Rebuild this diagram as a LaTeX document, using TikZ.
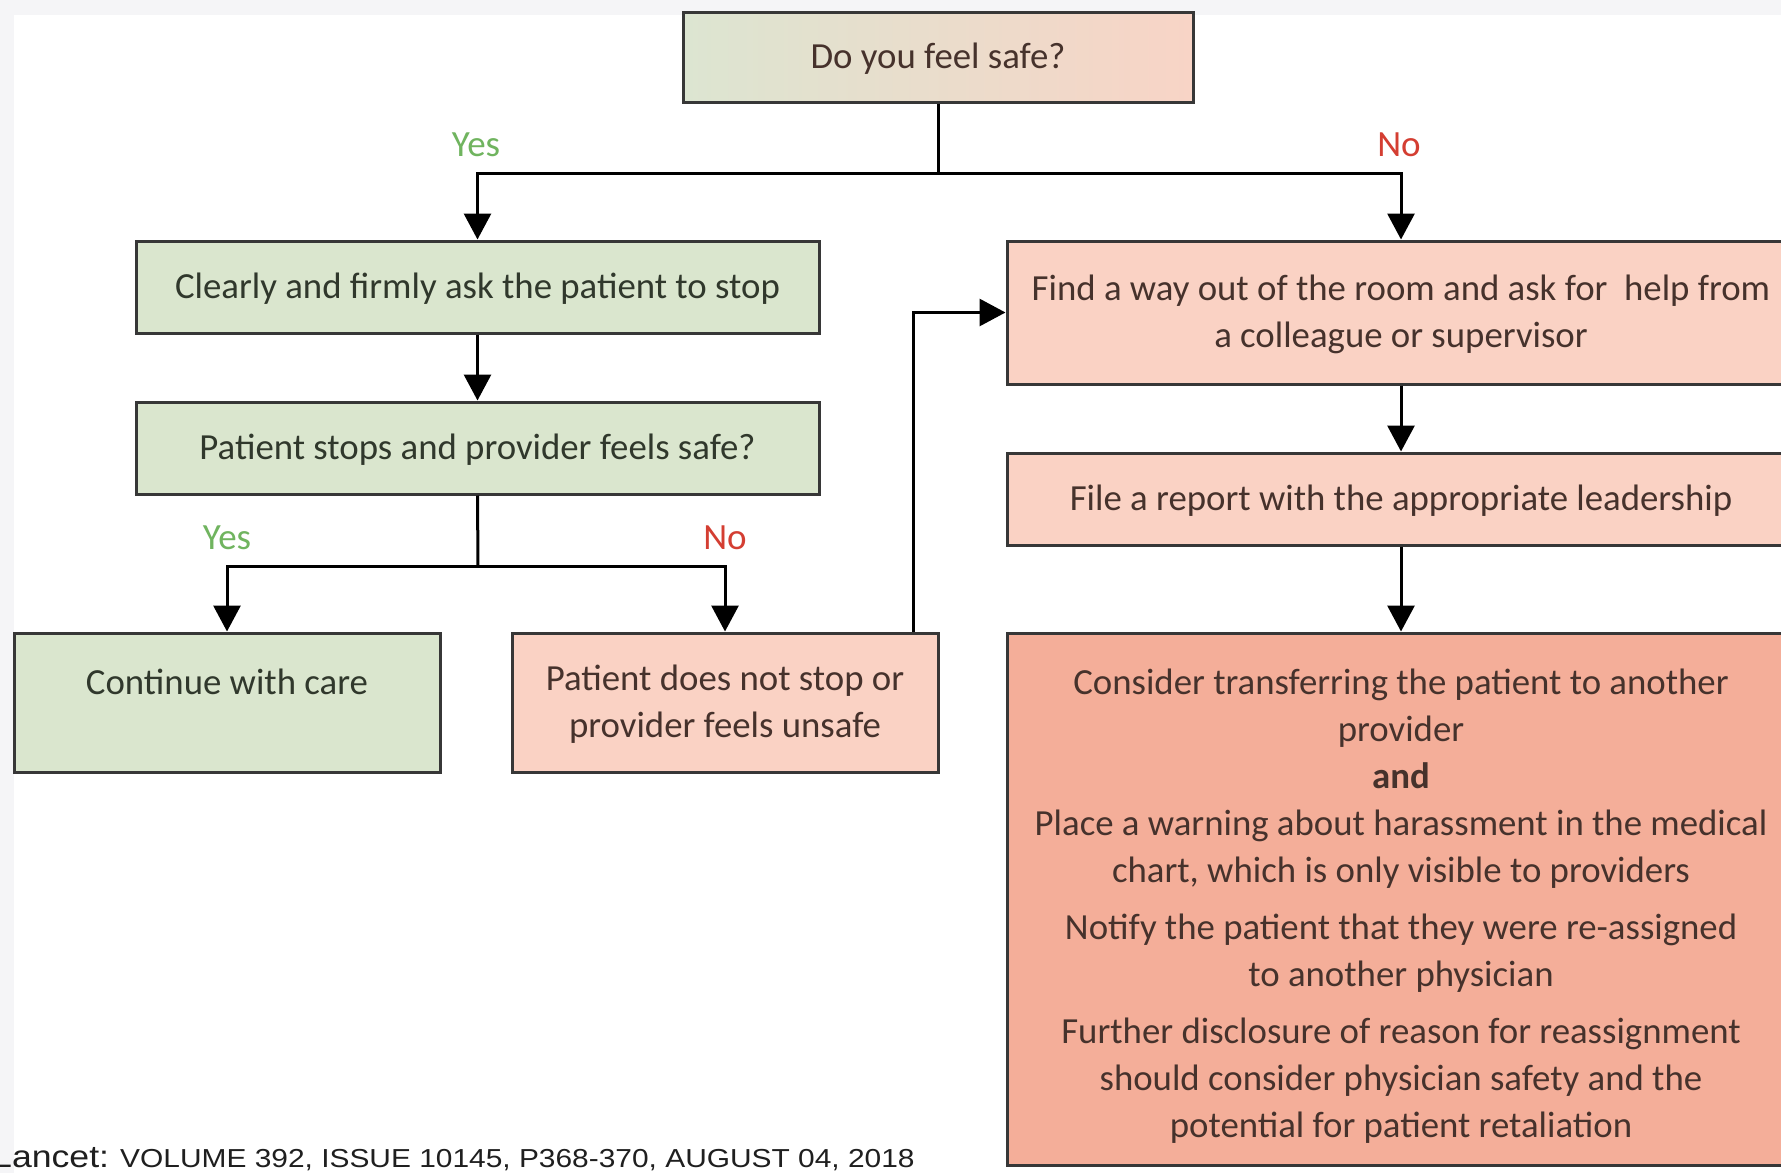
\documentclass[tikz,border=0pt]{standalone}
\usepackage{fontspec}
\setmainfont{Carlito}
\newfontfamily\citefont[FakeStretch=1.15]{Liberation Sans}
\usetikzlibrary{arrows.meta}
\definecolor{bggray}{RGB}{245,245,247}
\definecolor{gfill}{RGB}{218,230,206}
\definecolor{pfill}{RGB}{250,210,196}
\definecolor{cfill}{RGB}{244,174,153}
\definecolor{topleft}{RGB}{220,229,209}
\definecolor{topright}{RGB}{248,212,198}
\definecolor{yesgreen}{RGB}{112,180,95}
\definecolor{nored}{RGB}{212,62,50}
\definecolor{boxline}{RGB}{55,55,55}
\definecolor{gtxt}{RGB}{48,56,44}
\definecolor{ptxt}{RGB}{70,50,44}
\begin{document}
\begin{tikzpicture}[x=1pt,y=-1pt,
  box/.style={draw=boxline, line width=3pt, inner sep=0pt, align=center,
    font=\fontsize{36.8}{47}\selectfont, text depth=3pt},
  greenbox/.style={box, fill=gfill, text=gtxt},
  pinkbox/.style={box, fill=pfill, text=ptxt},
  conn/.style={line width=3pt, draw=black},
  arr/.style={conn, -{Triangle[width=27pt,length=26pt]}},
  yeslbl/.style={text=yesgreen, font=\fontsize{37}{40}\selectfont},
  nolbl/.style={text=nored, font=\fontsize{37}{40}\selectfont}]
\useasboundingbox (0,0) rectangle (1781,1173);
\fill[bggray] (0,0) rectangle (1781,1173);
\fill[white] (14,15) rectangle (1781,1173);

% nodes
\node[box, left color=topleft, right color=topright, text=ptxt,
  minimum width=510pt, minimum height=90pt] (q) at (938,57) {Do you feel safe?};
\node[greenbox, minimum width=683pt, minimum height=92pt] (ask) at (477.5,287)
  {Clearly and firmly ask the patient to stop};
\node[greenbox, minimum width=683pt, minimum height=92pt] (stops) at (477.5,448)
  {Patient stops and provider feels safe?};
\node[greenbox, text depth=0pt, minimum width=426pt, minimum height=139pt] (cont) at (227,702.5)
  {\rule{0pt}{31pt}Continue with care\\ \mbox{}};
\node[pinkbox, minimum width=426pt, minimum height=139pt] (notstop) at (725,702.5)
  {Patient does not stop or\\provider feels unsafe};
\node[pinkbox, minimum width=788pt, minimum height=143pt] (find) at (1401,312.5)
  {Find a way out of the room and ask for\ \ help from\\a colleague or supervisor};
\node[pinkbox, minimum width=788pt, minimum height=92pt] (file) at (1401,499)
  {File a report with the appropriate leadership};
\node[box, fill=cfill, text=ptxt, text depth=0pt, minimum width=788pt, minimum height=532pt] (cons) at (1401,899)
  {\rule{0pt}{34pt}Consider transferring the patient to another\\provider\\\textbf{and}\\
   Place a warning about harassment in the medical\\chart, which is only visible to providers\\[10pt]
   Notify the patient that they were re-assigned\\to another physician\\[10pt]
   Further disclosure of reason for reassignment\\should consider physician safety and the\\potential for patient retaliation};

% labels
\node[yeslbl] (yes1) at (476,145) {Yes};
\node[nolbl] (no1) at (1399,145) {No};
\node[yeslbl] (yes2) at (227,538) {Yes};
\node[nolbl] (no2) at (725,538) {No};

% connectors
\coordinate (b1) at (938,173);
\coordinate (b2) at (478,566);
\draw[conn] (q.south) -- (b1);
\draw[arr] (b1) -| (ask.north);
\draw[arr] (b1) -| (find.north);
\draw[arr] (ask.south) -- (stops.north);
\draw[conn] (stops.south) -- (b2);
\draw[arr] (b2) -| (cont.north);
\draw[arr] (b2) -| (notstop.north);
\draw[arr] ([xshift=-26pt]notstop.north east) |- (find.west);
\draw[arr] (find.south) -- (file.north);
\draw[arr] (file.south) -- (cons.north);

% citation
\node[anchor=base west, inner sep=0pt, text=black!88, font=\citefont\fontsize{26}{28}\selectfont] (cite) at (-8,1167)
  {{\fontsize{31}{34}\selectfont Lancet:} VOLUME 392, ISSUE 10145, P368-370, AUGUST 04, 2018};
\end{tikzpicture}
\end{document}
